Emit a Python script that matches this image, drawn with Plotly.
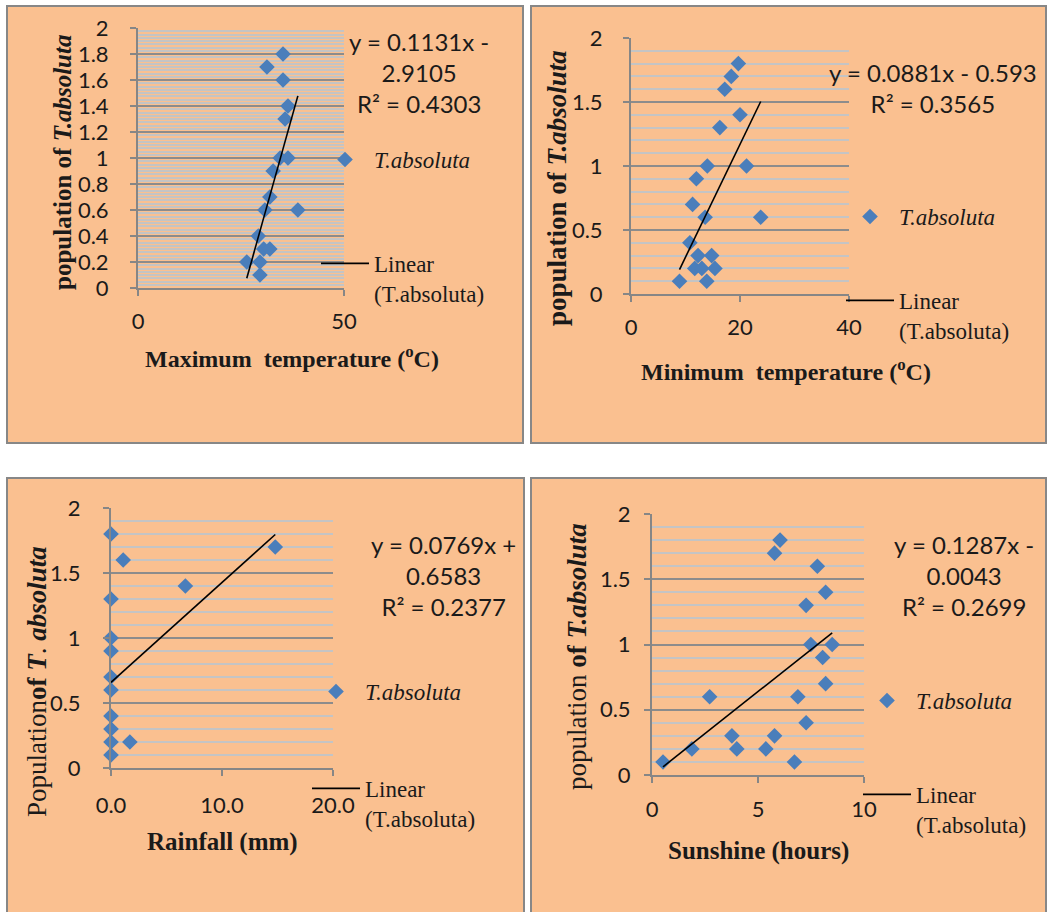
import plotly.graph_objects as go

# ---------------- data ----------------
max_temp = [35.2, 31.3, 35.2, 36.4, 35.7, 34.5, 36.4, 32.8, 32.0, 30.8, 38.8, 29.2, 30.5, 32.0, 26.4, 29.6, 29.6]
pop_max = [1.8, 1.7, 1.6, 1.4, 1.3, 1.0, 1.0, 0.9, 0.7, 0.6, 0.6, 0.4, 0.3, 0.3, 0.2, 0.2, 0.1]

min_temp = [19.7, 18.4, 17.2, 20.0, 16.3, 14.0, 21.2, 12.0, 11.3, 13.6, 23.8, 10.8, 12.3, 14.8, 11.7, 15.4, 13.0, 8.9, 13.9]
pop_min = [1.8, 1.7, 1.6, 1.4, 1.3, 1.0, 1.0, 0.9, 0.7, 0.6, 0.6, 0.4, 0.3, 0.3, 0.2, 0.2, 0.2, 0.1, 0.1]

rainfall = [0.0, 1.1, 14.8, 6.7, 0.0, 0.0, 0.0, 0.0, 0.0, 0.0, 0.0, 0.0, 1.7, 0.0]
pop_rain = [1.8, 1.6, 1.7, 1.4, 1.3, 1.0, 0.9, 0.7, 0.6, 0.4, 0.3, 0.2, 0.2, 0.1]

sunshine = [0.52, 1.88, 2.72, 3.77, 4.0, 5.37, 5.78, 5.78, 6.04, 6.72, 6.88, 7.27, 7.27, 7.49, 7.8, 8.05, 8.19, 8.19, 8.5]
pop_sun = [0.1, 0.2, 0.6, 0.3, 0.2, 0.2, 0.3, 1.7, 1.8, 0.1, 0.6, 0.4, 1.3, 1.0, 1.6, 0.9, 1.4, 0.7, 1.0]

# regression (slope, intercept) as printed on the chart
fit_max = (0.1131, -2.9105)
fit_min = (0.0881, -0.593)
fit_rain = (0.0769, 0.6583)
fit_sun = (0.1287, -0.0043)

eq_max = "y = 0.1131x -<br>2.9105<br>R² = 0.4303"
eq_min = "y = 0.0881x - 0.593<br>R² = 0.3565"
eq_rain = "y = 0.0769x +<br>0.6583<br>R² = 0.2377"
eq_sun = "y = 0.1287x -<br>0.0043<br>R² = 0.2699"

series_name = "<i>T.absoluta</i>"
trend_name = "Linear<br>(T.absoluta)"

# ---------------- styling ----------------
W, H = 1049, 912
PEACH = "#FAC090"
BORDER = "#878787"
BLUE = "#4A7EBB"
AXIS = "#868686"
TXT = "#1a1a1a"
SANS = "Lato"
SERIF = "Liberation Serif"


def px_x(p):
    return p / W


def px_y(p):
    return 1 - p / H


fig = go.Figure()

panels = [
    dict(x=max_temp, y=pop_max, fit=fit_max, xr=[0, 50], xd=50, xfmt="", minor=0.025, major=0.2,
         dom=(138, 344, 28, 288), legend="legend", eq=eq_max, eqpos=(419, 72),
         leg=(316, 138), gap=71, xs=7, ys=17,
         xtitle="Maximum  temperature (<sup>o</sup>C)", xtpos=(292, 357), xtsize=24,
         ytitle="<b>population of <i>T.absoluta</i></b>", ytpos=(63, 163), ytsize=25),
    dict(x=min_temp, y=pop_min, fit=fit_min, xr=[0, 40], xd=20, xfmt="", minor=0.1, major=0.5,
         dom=(631, 849, 38, 294), legend="legend2", eq=eq_min, eqpos=(933, 88),
         leg=(841, 195), gap=51, xs=7, ys=16,
         xtitle="Minimum  temperature (<sup>o</sup>C)", xtpos=(786, 370), xtsize=24,
         ytitle="<b>population of <i>T.absoluta</i></b>", ytpos=(557, 188), ytsize=27),
    dict(x=rainfall, y=pop_rain, fit=fit_rain, xr=[0, 20], xd=10, xfmt=".1f", minor=0.1, major=0.5,
         dom=(111, 333, 508, 768), legend="legend3", eq=eq_rain, eqpos=(443, 575),
         leg=(307, 670), gap=64, xs=11, ys=18,
         xtitle="Rainfall (mm)", xtpos=(222, 842), xtsize=25,
         ytitle="Population<b>of <i>T</i></b>. <b><i>absoluta</i></b>", ytpos=(37, 682), ytsize=27),
    dict(x=sunshine, y=pop_sun, fit=fit_sun, xr=[0, 10], xd=5, xfmt="", minor=0.1, major=0.5,
         dom=(652, 864, 514, 775), legend="legend4", eq=eq_sun, eqpos=(964, 575),
         leg=(858, 679), gap=61, xs=8, ys=9,
         xtitle="Sunshine (hours)", xtpos=(758, 851), xtsize=25,
         ytitle="population<b> of <i>T.absoluta</i></b>", ytpos=(577, 657), ytsize=27),
]

# panel backgrounds
boxes = [(7, 6, 523, 443), (531, 6, 1046, 443), (7, 478, 524, 918), (531, 478, 1046, 918)]
shapes = []
for (x0, y0, x1, y1) in boxes:
    shapes.append(dict(type="rect", xref="paper", yref="paper",
                       x0=px_x(x0), x1=px_x(x1), y0=px_y(y1), y1=px_y(y0),
                       fillcolor=PEACH, line=dict(color=BORDER, width=2), layer="below"))

annotations = []
layout = {}
for i, p in enumerate(panels):
    n = "" if i == 0 else str(i + 1)
    xa, ya = "x" + n, "y" + n
    x0, x1, y0, y1 = p["dom"]
    slope, icpt = p["fit"]
    xmin, xmax = min(p["x"]), max(p["x"])
    fig.add_trace(go.Scatter(
        x=p["x"], y=p["y"], mode="markers", name=series_name,
        marker=dict(symbol="diamond", size=12, color=BLUE, line=dict(width=0)),
        xaxis=xa, yaxis=ya, legend=p["legend"], legendgroup="s" + n,
        cliponaxis=False))
    fig.add_trace(go.Scatter(
        x=[xmin, xmax], y=[slope * xmin + icpt, slope * xmax + icpt], mode="lines",
        name=trend_name, line=dict(color="black", width=1.6),
        xaxis=xa, yaxis=ya, legend=p["legend"], legendgroup="t" + n))

    layout["xaxis" + n] = dict(
        domain=[px_x(x0), px_x(x1)], anchor=ya, range=p["xr"], dtick=p["xd"], tick0=0,
        tickformat=p["xfmt"], showgrid=False, zeroline=False, showline=True,
        linecolor=AXIS, linewidth=2, ticks="outside", ticklen=6, tickwidth=2, tickcolor=AXIS,
        ticklabelstandoff=p["xs"], tickfont=dict(family=SANS, size=22, color=TXT),
        automargin=False, fixedrange=True)
    layout["yaxis" + n] = dict(
        domain=[px_y(y1), px_y(y0)], anchor=xa, range=[0, 2], dtick=p["major"], tick0=0,
        showgrid=True, gridcolor="#8c8c8c", gridwidth=2, zeroline=False, showline=True,
        linecolor=AXIS, linewidth=2, ticks="outside", ticklen=6, tickwidth=2, tickcolor=AXIS,
        minor=dict(dtick=p["minor"], tick0=0, showgrid=True, gridcolor="#c4c4c4", gridwidth=1.5, ticks=""),
        ticklabelstandoff=p["ys"], tickfont=dict(family=SANS, size=22, color=TXT),
        automargin=False, fixedrange=True)

    layout[p["legend"]] = dict(
        x=px_x(p["leg"][0]), y=px_y(p["leg"][1]), xanchor="left", yanchor="top",
        bgcolor="rgba(0,0,0,0)", borderwidth=0, tracegroupgap=p["gap"], valign="top",
        itemwidth=48,
        font=dict(family=SERIF, size=23, color=TXT), itemclick=False, itemdoubleclick=False)

    annotations.append(dict(
        xref="paper", yref="paper", x=px_x(p["eqpos"][0]), y=px_y(p["eqpos"][1]),
        xanchor="center", yanchor="middle", align="center", text=p["eq"], showarrow=False,
        font=dict(family=SANS, size=24, color=TXT)))
    annotations.append(dict(
        xref="paper", yref="paper", x=px_x(p["xtpos"][0]), y=px_y(p["xtpos"][1]),
        xanchor="center", yanchor="middle", text="<b>" + p["xtitle"] + "</b>", showarrow=False,
        font=dict(family=SERIF, size=p["xtsize"], color=TXT)))
    annotations.append(dict(
        xref="paper", yref="paper", x=px_x(p["ytpos"][0]), y=px_y(p["ytpos"][1]),
        xanchor="center", yanchor="middle", text=p["ytitle"], textangle=-90, showarrow=False,
        font=dict(family=SERIF, size=p["ytsize"], color=TXT)))

fig.update_layout(
    width=W, height=H, margin=dict(l=0, r=0, t=0, b=0, pad=0, autoexpand=False),
    paper_bgcolor="white", plot_bgcolor="white", showlegend=True,
    shapes=shapes, annotations=annotations, **layout)

fig.write_html("out.html", config={"displayModeBar": False},
               post_script="document.body.style.margin='0px';document.body.style.overflow='hidden';")
